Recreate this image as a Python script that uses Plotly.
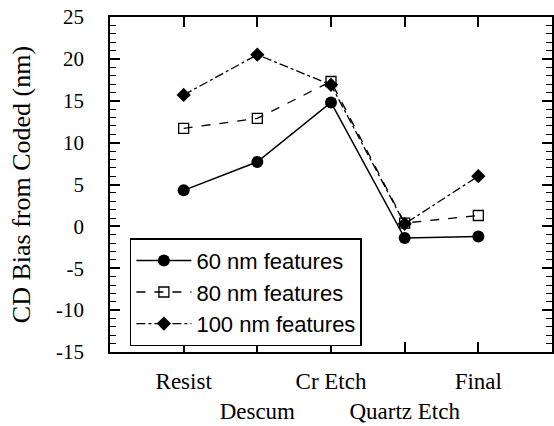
import plotly.graph_objects as go

# Process steps along the x axis
steps = ["Resist", "Descum", "Cr Etch", "Quartz Etch", "Final"]

# CD bias from coded size (nm) for each feature size
bias_60 = [4.3, 7.7, 14.8, -1.4, -1.2]
bias_80 = [11.7, 12.9, 17.3, 0.4, 1.3]
bias_100 = [15.7, 20.5, 16.9, 0.3, 6.0]

y_ticks = [25, 20, 15, 10, 5, 0, -5, -10, -15]

x = list(range(len(steps)))
# alternate labels onto two rows so the long names don't collide
tick_text = [s if i % 2 == 0 else "<br>" + s for i, s in enumerate(steps)]

fig = go.Figure()
fig.add_trace(go.Scatter(
    x=x, y=bias_60, name="60 nm features", mode="lines+markers",
    line=dict(color="black", width=1.5, dash="solid"),
    marker=dict(symbol="circle", size=12, color="black"),
))
fig.add_trace(go.Scatter(
    x=x, y=bias_80, name="80 nm features", mode="lines+markers",
    line=dict(color="black", width=1.3, dash="dash"),
    marker=dict(symbol="square-open", size=10, color="black", line=dict(width=1.3)),
))
fig.add_trace(go.Scatter(
    x=x, y=bias_100, name="100 nm features", mode="lines+markers",
    line=dict(color="black", width=1.3, dash="dashdot"),
    marker=dict(symbol="diamond", size=11, color="black"),
))

serif = "Liberation Serif"
sans = "Liberation Sans"

fig.update_layout(
    width=554, height=426,
    margin=dict(l=110, r=2, t=17, b=74, autoexpand=False),
    paper_bgcolor="white", plot_bgcolor="white",
    font=dict(family=serif, size=20, color="black"),
    showlegend=True,
    legend=dict(
        x=0.045, y=0.34, xanchor="left", yanchor="top",
        bgcolor="white", bordercolor="black", borderwidth=1.5,
        font=dict(family=sans, size=22, color="black"),
        tracegroupgap=0, itemwidth=55,
    ),
    xaxis=dict(
        range=[-1, 5], tickvals=x, ticktext=tick_text, tickangle=0,
        automargin=False,
        showgrid=False, zeroline=False,
        showline=True, linecolor="black", linewidth=1.5, mirror="ticks",
        ticks="inside", ticklen=10, tickwidth=1.5, tickcolor="black",
        ticklabelstandoff=8,
        tickfont=dict(family=serif, size=23, color="black"),
    ),
    yaxis=dict(
        range=[-15, 25], tickvals=y_ticks, ticktext=[str(v) for v in y_ticks],
        automargin=False,
        showgrid=False, zeroline=False,
        showline=True, linecolor="black", linewidth=1.5, mirror="ticks",
        ticks="inside", ticklen=10, tickwidth=1.5, tickcolor="black",
        minor=dict(dtick=1, tick0=0, ticks="inside", ticklen=6, tickwidth=1.2,
                   tickcolor="black", showgrid=False),
        ticklabelstandoff=20,
        tickfont=dict(family=serif, size=21, color="black"),
        title=dict(text="CD Bias from Coded (nm)",
                   font=dict(family=serif, size=26, color="black"),
                   standoff=18),
    ),
)

fig.write_html("out.html")
